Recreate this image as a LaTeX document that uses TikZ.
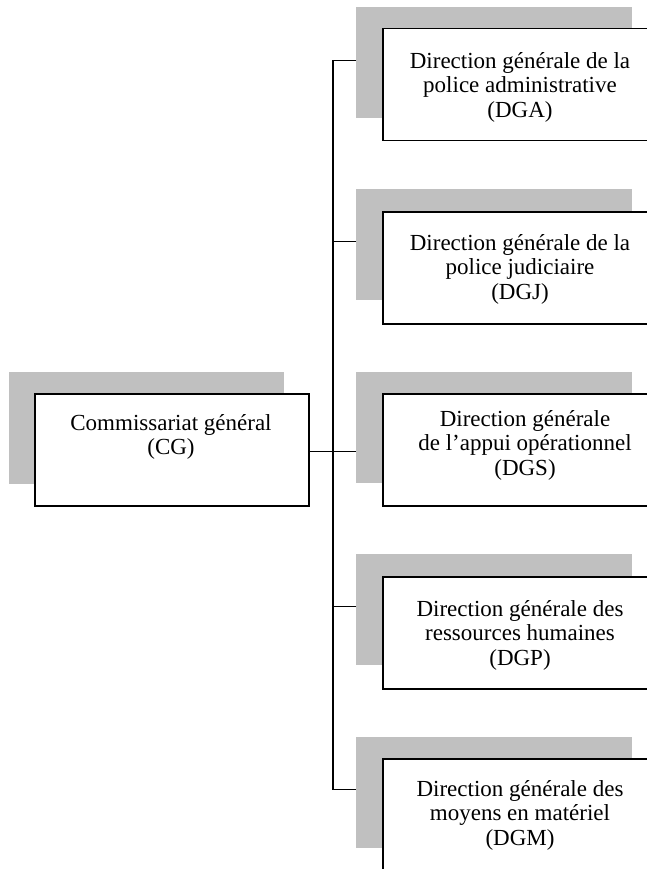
\documentclass[tikz,border=0pt]{standalone}
\usepackage{fontspec}
\setmainfont{Liberation Serif}
\definecolor{shadowgray}{RGB}{192,192,192}
\begin{document}
\begin{tikzpicture}[x=1pt,y=-1pt,
  shadowbox/.style={fill=shadowgray, draw=none, inner sep=0pt, anchor=north west, minimum width=276pt, minimum height=111pt},
  whitebox/.style={fill=white, draw=black, line width=1.5pt, inner sep=0pt, anchor=north west, minimum width=268pt, minimum height=112pt},
  txt/.style={font=\fontsize{23}{24.5}\selectfont, align=center, inner sep=0pt},
  link/.style={line width=1.3pt}]
\useasboundingbox (0,0) rectangle (647,869);
\clip (0,0) rectangle (647,869);
% central box
\node[shadowbox, minimum width=275pt, minimum height=112pt] (cgS) at (9,372) {};
\node[whitebox, minimum width=274pt] (cg) at (34,393) {};
\node[txt] (cgT) at (171,437) {Commissariat général\\(CG)};
% right boxes
\node[shadowbox] (aS) at (356,7) {};
\node[shadowbox] (jS) at (356,189) {};
\node[shadowbox] (sS) at (356,372) {};
\node[shadowbox] (pS) at (356,554) {};
\node[shadowbox] (mS) at (356,737) {};
\node[whitebox] (a) at (382,28) {};
\node[whitebox] (j) at (382,211) {};
\node[whitebox] (s) at (382,393) {};
\node[whitebox] (p) at (382,576) {};
\node[whitebox, minimum height=120pt] (m) at (382,758) {};
\node[txt] (aT) at (520,87) {Direction générale de la\\police administrative\\(DGA)};
\node[txt] (jT) at (520,269) {Direction générale de la\\police judiciaire\\(DGJ)};
\node[txt] (sT) at (525,445) {Direction générale\\de l’appui opérationnel\\(DGS)};
\node[txt] (pT) at (520,635) {Direction générale des\\ressources humaines\\(DGP)};
\node[txt] (mT) at (520,815) {Direction générale des\\moyens en matériel\\(DGM)};
% connectors
\coordinate (tx) at (333,0);
\draw[link] ([yshift=2.5pt]aS.west) -- ([yshift=2.5pt]aS.west -| tx) -- ([yshift=3pt]mS.west -| tx) -- ([yshift=3pt]mS.west);
\draw[link] ([yshift=3pt]jS.west) -- ([yshift=3pt]jS.west -| tx);
\draw[link] ([yshift=3pt]pS.west) -- ([yshift=3pt]pS.west -| tx);
\draw[link] ([yshift=-2pt]cg.east) -- ([yshift=-2pt]cg.east -| sS.west);
\end{tikzpicture}
\end{document}
